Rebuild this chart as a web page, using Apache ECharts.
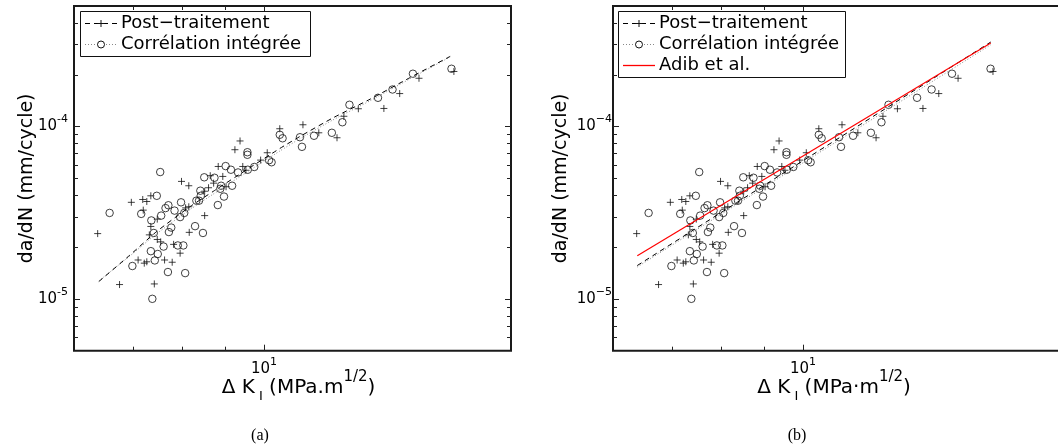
<!DOCTYPE html>
<html>
<head>
<meta charset="utf-8">
<script src="https://cdn.jsdelivr.net/npm/echarts@6/dist/echarts.min.js"></script>
<style>html,body{margin:0;padding:0;background:#fff}#c{width:1058px;height:448px}</style>
</head>
<body>
<div id="c"></div>
<script>
// ---- data ----
const corrX = [6.57, 6.99, 7.16, 7.36, 7.41, 7.35, 7.49, 7.43, 7.38, 7.54, 7.47, 7.56, 7.65, 7.71, 7.84, 7.98, 8.05, 7.96, 7.77, 7.72,
  7.61, 7.91, 8.03, 7.70, 8.07, 8.29, 8.47, 8.41, 8.42, 8.32, 8.38, 8.50, 8.74, 8.90, 8.88, 9.17, 8.97, 8.82, 9.01, 9.14,
  9.32, 9.57, 9.74, 9.56, 9.56, 10.14, 10.21, 10.44, 10.52, 11.03, 11.09, 11.46, 12.03, 12.38, 12.62, 13.64, 14.19, 15.00, 16.66];
const corrY = [3.15e-5, 1.55e-5, 3.11e-5, 2.85e-5, 2.41e-5, 1.89e-5, 1.82e-5, 1.67e-5, 1.00e-5, 5.44e-5, 3.96e-5, 3.04e-5, 3.36e-5, 3.49e-5, 3.25e-5, 3.63e-5, 3.15e-5, 2.98e-5, 2.59e-5, 2.44e-5,
  2.01e-5, 2.04e-5, 2.04e-5, 1.43e-5, 1.41e-5, 2.64e-5, 2.41e-5, 4.24e-5, 3.96e-5, 3.71e-5, 3.71e-5, 5.07e-5, 5.04e-5, 4.53e-5, 4.35e-5, 4.53e-5, 3.92e-5, 3.50e-5, 5.89e-5, 5.61e-5,
  5.41e-5, 5.61e-5, 5.82e-5, 7.09e-5, 6.85e-5, 6.37e-5, 6.20e-5, 8.95e-5, 8.54e-5, 8.66e-5, 7.62e-5, 8.83e-5, 9.19e-5, 1.058e-4, 1.336e-4, 1.467e-4, 1.639e-4, 2.023e-4, 2.162e-4];
const postX = [6.36, 6.75, 7.42, 6.97, 7.19, 7.27, 7.35, 7.20, 7.35, 7.32, 7.48, 7.55, 7.10, 7.22, 7.27, 7.63, 7.79, 7.82, 7.96, 7.48,
  7.99, 8.15, 8.08, 8.15, 8.16, 8.51, 8.51, 8.60, 8.64, 8.72, 8.94, 9.02, 8.83, 9.24, 9.37, 9.44, 9.52, 9.91, 10.09, 10.44,
  11.12, 11.61, 12.20, 12.43, 12.93, 13.86, 14.47, 15.25, 16.77];
const postY = [2.39e-5, 1.21e-5, 1.22e-5, 3.63e-5, 3.77e-5, 3.67e-5, 3.96e-5, 3.27e-5, 2.63e-5, 2.35e-5, 2.21e-5, 2.14e-5, 1.68e-5, 1.61e-5, 1.64e-5, 1.68e-5, 1.63e-5, 2.07e-5, 1.84e-5, 2.90e-5,
  4.80e-5, 4.53e-5, 3.37e-5, 3.42e-5, 2.43e-5, 3.04e-5, 4.21e-5, 4.41e-5, 5.18e-5, 4.69e-5, 5.13e-5, 4.47e-5, 5.86e-5, 7.33e-5, 8.24e-5, 5.86e-5, 5.57e-5, 6.38e-5, 7.04e-5, 9.70e-5,
  1.023e-4, 9.19e-5, 8.60e-5, 1.146e-4, 1.267e-4, 1.272e-4, 1.552e-4, 1.904e-4, 2.085e-4];

// panel (a) fitted curves
const fitX = [6.38, 6.94, 7.47, 8.18, 8.71, 9.54, 10.44, 11.03, 12.06, 13.35, 14.88, 16.6];
const fitPostY = [1.26e-5, 1.79e-5, 2.46e-5, 3.43e-5, 4.20e-5, 5.61e-5, 7.45e-5, 8.75e-5, 1.12e-4, 1.44e-4, 1.92e-4, 2.55e-4];
const fitCorrY = [1.27e-5, 1.77e-5, 2.39e-5, 3.30e-5, 4.05e-5, 5.42e-5, 7.20e-5, 8.50e-5, 1.09e-4, 1.41e-4, 1.89e-4, 2.53e-4];

// panel (b) power-law lines
const linX = [6.37, 16.67];
const linPostY = [1.56e-5, 3.09e-4];
const linCorrY = [1.53e-5, 2.98e-4];
const adibY = [1.78e-5, 3.05e-4];

// axes
const xRangeA = [5.963, 19.59];
const xRangeB = [5.963, 20.85];
const yRange = [5e-6, 5e-4];
const xMajorTicks = [10];
const xMinorTicks = [7, 8, 9];
const yMajorTicks = [1e-5, 1e-4];
const yMinorTicks = [6e-6, 7e-6, 8e-6, 9e-6, 2e-5, 3e-5, 4e-5, 5e-5, 6e-5, 7e-5, 8e-5, 9e-5, 2e-4, 3e-4, 4e-4];

// ---- chart ----
const FONT = 'DejaVu Sans';
const chart = echarts.init(document.getElementById('c'), null, {renderer: 'canvas'});
const pairs = (xs, ys) => xs.map((x, i) => [x, ys[i]]);

function expLabel(minus) {
  return function (v) {
    const e = Math.log10(v), r = Math.round(e);
    if (Math.abs(e - r) > 1e-6) return '';
    const s = r < 0 ? minus + Math.abs(r) : String(r);
    return '{b|10}{s|' + s + '}';
  };
}
const tickRich = {
  b: {fontSize: 15, fontFamily: FONT, color: '#000', lineHeight: 25, verticalAlign: 'middle'},
  s: {fontSize: 11, fontFamily: FONT, color: '#000', lineHeight: 25, verticalAlign: 'top'}
};
const nameRich = {
  b: {fontSize: 20, fontFamily: FONT, color: '#000', lineHeight: 36, verticalAlign: 'middle'},
  sub: {fontSize: 13, fontFamily: FONT, color: '#000', lineHeight: 36, height: 19, verticalAlign: 'bottom'},
  sup: {fontSize: 15, fontFamily: FONT, color: '#000', lineHeight: 36, verticalAlign: 'top'}
};

function xAxisCfg(gi, range, dot, padding) {
  return {
    gridIndex: gi, type: 'log', logBase: 10, min: range[0], max: range[1],
    axisLine: {show: false}, axisTick: {show: false}, splitLine: {show: false},
    axisLabel: {margin: 6, formatter: expLabel('-'), rich: tickRich, showMinLabel: false, showMaxLabel: false},
    name: '{b|Δ K}{sub| I}{b| (MPa' + dot + 'm}{sup|1/2}{b|)}',
    nameLocation: 'middle', nameGap: 19, nameMoveOverlap: false,
    nameTextStyle: {rich: nameRich, padding: padding}
  };
}
function yAxisCfg(gi, minus, margin, gap) {
  return {
    gridIndex: gi, type: 'log', logBase: 10, min: yRange[0], max: yRange[1],
    axisLine: {show: false}, axisTick: {show: false}, splitLine: {show: false},
    axisLabel: {margin: margin, formatter: expLabel(minus), rich: tickRich, showMinLabel: false, showMaxLabel: false},
    name: 'da/dN (mm/cycle)', nameLocation: 'middle', nameGap: gap, nameMoveOverlap: false,
    nameTextStyle: {fontSize: 19, fontFamily: FONT, color: '#000'}
  };
}

function tickData(xr) {
  const d = [];
  yMajorTicks.forEach(v => d.push([xr[0], v, 0]));
  yMinorTicks.forEach(v => d.push([xr[0], v, 1]));
  xMajorTicks.forEach(v => d.push([v, yRange[0], 2]));
  xMinorTicks.forEach(v => d.push([v, yRange[0], 3]));
  return d;
}
function tickRender(params, api) {
  const cs = params.coordSys;
  const kind = api.value(2);
  const p = api.coord([api.value(0), api.value(1)]);
  const len = (kind === 0 || kind === 2) ? 6 : 4;
  const style = {stroke: '#222', lineWidth: 1};
  if (kind < 2) {
    const y = Math.round(p[1]) + 0.5;
    return {type: 'group', children: [
      {type: 'line', shape: {x1: cs.x, y1: y, x2: cs.x + len, y2: y}, style: style},
      {type: 'line', shape: {x1: cs.x + cs.width, y1: y, x2: cs.x + cs.width - len, y2: y}, style: style}
    ]};
  }
  const x = Math.round(p[0]) + 0.5;
  return {type: 'group', children: [
    {type: 'line', shape: {x1: x, y1: cs.y + cs.height, x2: x, y2: cs.y + cs.height - len}, style: style},
    {type: 'line', shape: {x1: x, y1: cs.y, x2: x, y2: cs.y + len}, style: style}
  ]};
}

const PLUS = 'path://M5 0L5 10M0 5L10 5';
function scatterPair(gi) {
  return [
    {type: 'scatter', xAxisIndex: gi, yAxisIndex: gi, data: pairs(corrX, corrY), symbol: 'circle', symbolSize: 7.5,
      itemStyle: {color: 'rgba(0,0,0,0)', borderColor: '#111', borderWidth: 1}, silent: true, z: 3},
    {type: 'scatter', xAxisIndex: gi, yAxisIndex: gi, data: pairs(postX, postY), symbol: PLUS, symbolSize: 7,
      itemStyle: {color: 'rgba(0,0,0,0)', borderColor: '#111', borderWidth: 1}, silent: true, z: 3}
  ];
}
function lineS(gi, data, color, type, smooth, width) {
  return {type: 'line', xAxisIndex: gi, yAxisIndex: gi, data: data, symbol: 'none', showSymbol: false,
    smooth: smooth || false, lineStyle: {color: color, width: width || 1, type: type}, silent: true, z: 4};
}

// legend drawn with graphic primitives
function legend(x0, w, h, rows) {
  const els = [{type: 'rect', z: 100, shape: {x: x0 + 0.5, y: 11.5, width: w, height: h},
    style: {fill: '#fff', stroke: '#111', lineWidth: 1}}];
  rows.forEach((r, i) => {
    const y = 23.5 + i * 21;
    const lx1 = x0 + 5, lx2 = x0 + 37, mx = x0 + 21;
    const ls = {stroke: r.color, lineWidth: r.width || 1};
    if (r.dash) ls.lineDash = r.dash;
    els.push({type: 'line', z: 101, shape: {x1: lx1, y1: y, x2: lx2, y2: y}, style: ls});
    if (r.mark === 'plus') {
      els.push({type: 'line', z: 102, shape: {x1: mx - 3.5, y1: y, x2: mx + 3.5, y2: y}, style: {stroke: '#111', lineWidth: 1}});
      els.push({type: 'line', z: 102, shape: {x1: mx, y1: y - 3.5, x2: mx, y2: y + 3.5}, style: {stroke: '#111', lineWidth: 1}});
    } else if (r.mark === 'circle') {
      els.push({type: 'circle', z: 102, shape: {cx: mx, cy: y, r: 3.5}, style: {fill: '#fff', stroke: '#111', lineWidth: 1}});
    }
    els.push({type: 'text', z: 102, x: x0 + 41, y: y,
      style: {text: r.text, font: '18px "DejaVu Sans"', fill: '#000', align: 'left', verticalAlign: 'middle'}});
  });
  return els;
}

const graphic = []
  .concat(legend(80, 230, 45, [
    {text: 'Post−traitement', color: '#000', dash: [5, 4], mark: 'plus'},
    {text: 'Corrélation intégrée', color: '#888', dash: [1, 2], mark: 'circle'}
  ]))
  .concat(legend(618, 227, 66, [
    {text: 'Post−traitement', color: '#000', dash: [5, 4], mark: 'plus'},
    {text: 'Corrélation intégrée', color: '#888', dash: [1, 2], mark: 'circle'},
    {text: 'Adib et al.', color: 'rgb(255,0,0)', width: 1.3, mark: null}
  ]))
  .concat([
    {type: 'text', x: 260, y: 435.5, style: {text: '(a)', font: '16px "Liberation Serif"', fill: '#000', align: 'center', verticalAlign: 'middle'}},
    {type: 'text', x: 797, y: 435.5, style: {text: '(b)', font: '16px "Liberation Serif"', fill: '#000', align: 'center', verticalAlign: 'middle'}}
  ]);

const option = {
  animation: false,
  backgroundColor: '#fff',
  textStyle: {fontFamily: FONT},
  grid: [
    {left: 74, top: 6, width: 437, height: 344.7, show: true, borderColor: '#1a1a1a', borderWidth: 2,
      backgroundColor: 'transparent', containLabel: false, outerBoundsMode: 'none'},
    {left: 613, top: 6, width: 460, height: 344.7, show: true, borderColor: '#1a1a1a', borderWidth: 2,
      backgroundColor: 'transparent', containLabel: false, outerBoundsMode: 'none'}
  ],
  xAxis: [xAxisCfg(0, xRangeA, '.', [0, 0, 0, 12]), xAxisCfg(1, xRangeB, '·', [0, 18, 0, 0])],
  yAxis: [yAxisCfg(0, '-', 6, 37), yAxisCfg(1, '−', 1, 42)],
  graphic: graphic,
  series: []
    .concat(scatterPair(0))
    .concat([
      lineS(0, pairs(fitX, fitCorrY), '#888', [1, 2], 0.2),
      lineS(0, pairs(fitX, fitPostY), '#000', [5, 4], 0.2)
    ])
    .concat(scatterPair(1))
    .concat([
      lineS(1, pairs(linX, linCorrY), '#888', [1, 2]),
      lineS(1, pairs(linX, linPostY), '#000', [5, 4]),
      lineS(1, pairs(linX, adibY), '#ff0000', 'solid', false, 1.2)
    ])
    .concat([0, 1].map(gi => ({
      type: 'custom', xAxisIndex: gi, yAxisIndex: gi, data: tickData(gi === 0 ? xRangeA : xRangeB),
      renderItem: tickRender, silent: true, clip: false, z: 5
    })))
};
chart.setOption(option);
</script>
</body>
</html>
